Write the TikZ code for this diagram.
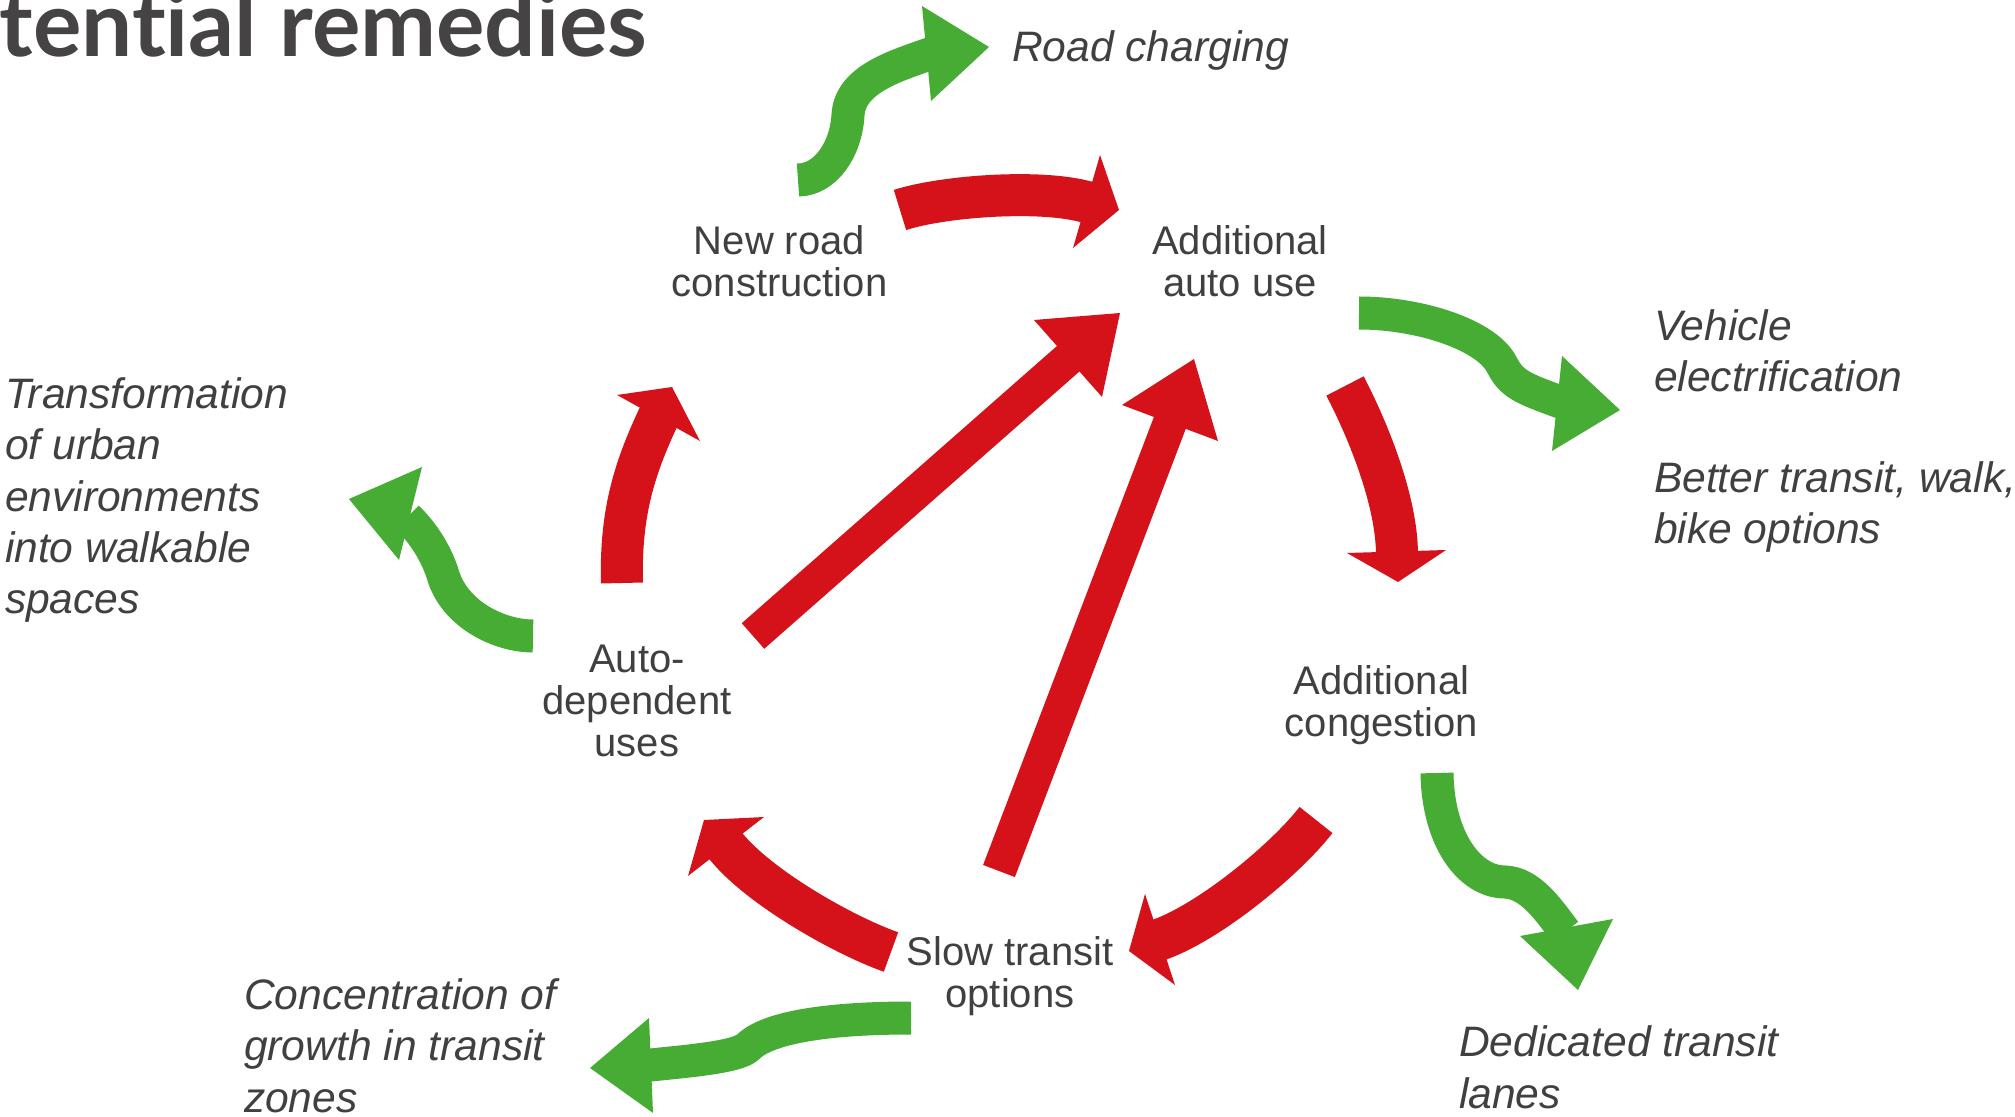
\documentclass[tikz,border=0pt]{standalone}
\usepackage{fontspec}
\setmainfont{Liberation Sans}
\newfontfamily\titlefont{Lato}[Ligatures=NoCommon]
\usetikzlibrary{calc}
\definecolor{arrred}{RGB}{213,18,26}
\definecolor{arrgreen}{RGB}{70,172,52}
\definecolor{txtgray}{RGB}{64,64,64}
\definecolor{titlegray}{RGB}{70,67,68}
\newlength{\ttlwidth}
\begin{document}
\settowidth{\ttlwidth}{\fontsize{40}{40}\selectfont\titlefont\bfseries tential remedies}%
\pgfmathsetmacro{\ttlsize}{40*324/\ttlwidth}%
\begin{tikzpicture}[x=0.5pt,y=-0.5pt,
  lbl/.style={font=\fontsize{20}{21}\selectfont, text=txtgray, align=center, inner sep=0pt, outer sep=0pt, anchor=base},
  rem/.style={font=\fontsize{21.3}{25.7}\selectfont\itshape, text=txtgray, align=left, inner sep=0pt, outer sep=0pt, anchor=base west},
  redcurve/.style={draw=arrred, line width=21pt, line cap=butt},
  redline/.style={draw=arrred, line width=17pt, line cap=butt},
  greenshaft/.style={draw=arrgreen, line width=16.5pt, line cap=butt, line join=round},
  redhead/.style={fill=arrred},
  greenhead/.style={fill=arrgreen},
]
\useasboundingbox (0,0) rectangle (2015,1117);

% title (scaled so that it spans the reference width)
\node[font=\fontsize{\ttlsize}{\ttlsize}\selectfont\titlefont\bfseries, text=titlegray, anchor=base east, inner sep=0pt] (title) at (648,57) {tential remedies};

% main labels (base = baseline of last line)
\node[lbl] (newroad) at (779.5,297) {New road\\construction};
\node[lbl] (autouse) at (1240,297) {Additional\\auto use};
\node[lbl] (autodep) at (637,756) {Auto-\\dependent\\uses};
\node[lbl] (congest) at (1381.5,736.5) {Additional\\congestion};
\node[lbl] (slow) at (1010,1007) {Slow transit\\options};

% remedies
\node[rem] (roadchg) at (1012,62) {Road charging};
\node[rem] (vehicle) at (1654,392) {Vehicle\\electrification};
\node[rem] (better) at (1654,544) {Better transit, walk,\\bike options};
\node[rem] (transform) at (5,614) {Transformation\\of urban\\environments\\into walkable\\spaces};
\node[rem] (concent) at (244,1112) {Concentration of\\growth in transit\\zones};
\node[rem] (dedicated) at (1459,1108) {Dedicated transit\\lanes};

% ---------- red arrows ----------
% R1 new road -> additional auto use
\coordinate (r1a) at (900,210);
\coordinate (r1b) at (1090,203);
\draw[redcurve] (r1a) .. controls (943,196) and (1044,188.5) .. (r1b);
\fill[redhead] (1100,155) -- (1119,210) -- (1073,248) -- cycle;

% R2 auto-dependent -> new road
\coordinate (r2a) at (622,583);
\coordinate (r2b) at (659.3,415.3);
\draw[redcurve] (r2a) .. controls (620,510) and (636,465) .. (r2b);
\fill[redhead] (617,395) -- (672,387) -- (700,441) -- cycle;

% R3 auto-dependent -> additional auto use (straight)
\coordinate (r3a) at (753,636);
\coordinate (r3b) at (1072,355.4);
\draw[redline] (r3a) -- (r3b);
\fill[redhead] (1034,320) -- (1120,313) -- (1102,397) -- cycle;

% R4 slow transit -> additional auto use (straight)
\coordinate (r4a) at (999,871);
\coordinate (r4b) at (1171.4,418.8);
\draw[redline] (r4a) -- (r4b);
\fill[redhead] (1122,405) -- (1194,359) -- (1218,441) -- cycle;

% R5 additional auto use -> congestion
\coordinate (r5a) at (1345,386);
\coordinate (r5b) at (1397,555);
\draw[redcurve] (r5a) .. controls (1368,430) and (1397,501) .. (r5b);
\fill[redhead] (1347,553) -- (1398,582) -- (1446,550) -- cycle;

% R6 congestion -> slow transit
\coordinate (r6a) at (1316,820);
\coordinate (r6b) at (1156.2,940.8);
\draw[redcurve] (r6a) .. controls (1285.5,859.5) and (1207.5,924) .. (r6b);
\fill[redhead] (1145,894) -- (1129,951) -- (1175,985) -- cycle;

% R7 slow transit -> auto-dependent
\coordinate (r7a) at (891,952);
\coordinate (r7b) at (723.6,843.3);
\draw[redcurve] (r7a) .. controls (844,935.5) and (756,886) .. (r7b);
\fill[redhead] (764,817) -- (704,820) -- (688,876) -- cycle;

% ---------- green arrows ----------
% G1 new road -> road charging
\coordinate (g1a) at (798,180);
\coordinate (g1m) at (848,115);
\coordinate (g1b) at (930.3,53.7);
\draw[greenshaft] (g1a) .. controls (825,180) and (846,150) .. (g1m)
  .. controls (850,80) and (893.5,66.5) .. (g1b);
\fill[greenhead] (922,6) -- (989,47) -- (931,101) -- cycle;

% G2 additional auto use -> vehicle electrification
\coordinate (g2a) at (1359,313);
\coordinate (g2m) at (1502,365);
\coordinate (g2b) at (1561.2,402.4);
\draw[greenshaft] (g2a) .. controls (1420,313) and (1487,335) .. (g2m)
  .. controls (1512,385) and (1525,389) .. (g2b);
\fill[greenhead] (1562,356) -- (1620,410) -- (1552,451) -- cycle;

% G3 auto-dependent -> transformation
\coordinate (g3a) at (533,636);
\coordinate (g3m) at (443,575);
\coordinate (g3b) at (407.1,517.2);
\draw[greenshaft] (g3a) .. controls (500,636) and (455,615) .. (g3m)
  .. controls (438.6,560.6) and (428,537.5) .. (g3b);
\fill[greenhead] (422,467) -- (349,499) -- (399,560) -- cycle;

% G4 congestion -> dedicated transit lanes
\coordinate (g4a) at (1437,773);
\coordinate (g4m) at (1505,882);
\coordinate (g4b) at (1564.9,931.7);
\draw[greenshaft] (g4a) .. controls (1438,840) and (1470,882) .. (g4m)
  .. controls (1530,883) and (1547.5,908.5) .. (g4b);
\fill[greenhead] (1520,936) -- (1578,990) -- (1613,919) -- cycle;

% G5 slow transit -> concentration of growth
\coordinate (g5a) at (911,1018);
\coordinate (g5m) at (748,1047);
\coordinate (g5b) at (647,1065.4);
\draw[greenshaft] (g5a) .. controls (840,1018) and (770,1025) .. (g5m)
  .. controls (737.4,1057.6) and (681,1061.7) .. (g5b);
\fill[greenhead] (649,1018) -- (590,1068) -- (653,1113) -- cycle;
\end{tikzpicture}
\end{document}
